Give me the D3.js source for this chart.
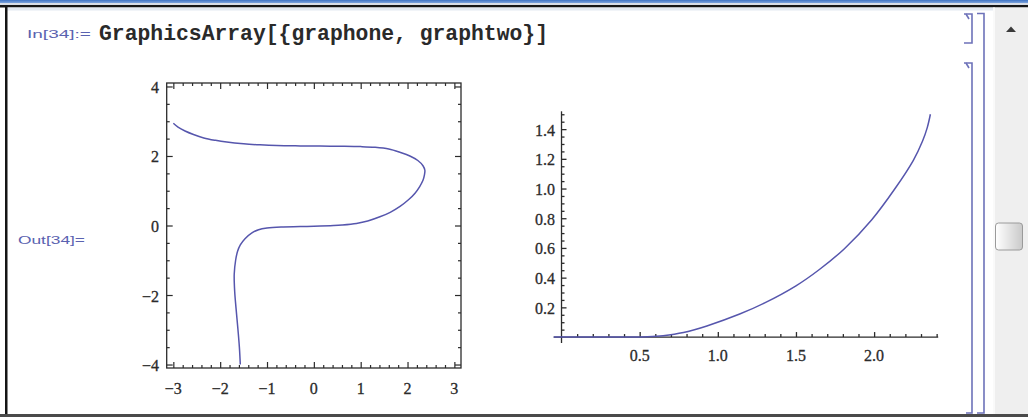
<!DOCTYPE html>
<html><head><meta charset="utf-8">
<script src="https://cdn.jsdelivr.net/npm/d3@7"></script>
<style>html,body{margin:0;padding:0;background:#fff;overflow:hidden}</style>
</head><body>
<script>
// ---- data ----
const inputLabel = "In[34]:=";
const outputLabel = "Out[34]=";
const inputCode = "GraphicsArray[{graphone, graphtwo}]";

// graphone: parametric curve
const oneX = [-3.0,-2.9,-2.75,-2.57,-2.35,-2.1,-1.86,-1.5,-1.15,-0.79,-0.29,0.13,0.6,1.0,1.3,1.6,1.85,2.05,2.22,2.33,2.37,2.36,2.33,2.26,2.16,2.02,1.84,1.63,1.41,1.15,0.91,0.6,0.42,0.0,-0.29,-0.7,-1.0,-1.18,-1.33,-1.47,-1.57,-1.63,-1.67,-1.70,-1.69,-1.66,-1.62,-1.59,-1.57];
const oneY = [2.94,2.83,2.72,2.62,2.52,2.45,2.40,2.35,2.32,2.30,2.29,2.285,2.28,2.27,2.25,2.2,2.1,2.0,1.87,1.72,1.59,1.45,1.30,1.12,0.93,0.74,0.55,0.38,0.25,0.13,0.06,0.015,0.0,-0.02,-0.03,-0.04,-0.07,-0.12,-0.22,-0.38,-0.56,-0.75,-1.0,-1.4,-1.9,-2.4,-3.0,-3.5,-4.0];
const oneXTicks = [-3,-2,-1,0,1,2,3];
const oneXLabels = ["\u22123","\u22122","\u22121","0","1","2","3"];
const oneYTicks = [-4,-2,0,2,4];
const oneYLabels = ["\u22124","\u22122","0","2","4"];

// graphtwo
const twoX = [-0.05,0.3,0.45,0.55,0.65,0.78,0.93,1.14,1.3,1.5,1.65,1.81,1.985,2.134,2.251,2.31,2.34,2.36];
const twoY = [0,0,0,0.002,0.009,0.03,0.075,0.155,0.23,0.345,0.455,0.595,0.79,1.0,1.19,1.32,1.41,1.5];
const twoXTicks = [0.5,1.0,1.5,2.0];
const twoXLabels = ["0.5","1.0","1.5","2.0"];
const twoYTicks = [0.2,0.4,0.6,0.8,1.0,1.2,1.4];
const twoYLabels = ["0.2","0.4","0.6","0.8","1.0","1.2","1.4"];

// ---- drawing ----
const W = 1028, H = 417;
const svg = d3.select("body").append("svg").attr("width", W).attr("height", H)
  .style("display","block");

const defs = svg.append("defs");
const gTop = defs.append("linearGradient").attr("id","topband").attr("x1",0).attr("x2",0).attr("y1",0).attr("y2",1);
gTop.append("stop").attr("offset","0%").attr("stop-color","#3f74c4");
gTop.append("stop").attr("offset","100%").attr("stop-color","#7da3dc");
const gThumb = defs.append("linearGradient").attr("id","thumb").attr("x1",0).attr("x2",1).attr("y1",0).attr("y2",0);
gThumb.append("stop").attr("offset","0%").attr("stop-color","#ffffff");
gThumb.append("stop").attr("offset","100%").attr("stop-color","#c9c9c9");

svg.append("rect").attr("width",W).attr("height",H).attr("fill","#fff");

// window chrome
svg.append("rect").attr("x",0).attr("y",0).attr("width",W).attr("height",3).attr("fill","url(#topband)");
svg.append("rect").attr("x",0).attr("y",3).attr("width",W).attr("height",2).attr("fill","#d8dde6");
svg.append("rect").attr("x",0).attr("y",5).attr("width",W).attr("height",2.5).attr("fill","#151515");
svg.append("rect").attr("x",7).attr("y",7.5).attr("width",986).attr("height",3).attr("fill","#e3e9f1");
svg.append("rect").attr("x",5).attr("y",5).attr("width",2.5).attr("height",H).attr("fill","#151515");
svg.append("rect").attr("x",0).attr("y",414).attr("width",W).attr("height",3).attr("fill","#4a4a4a");

// scrollbar
svg.append("rect").attr("x",993).attr("y",7.5).attr("width",35).attr("height",406.5).attr("fill","#efefef");
svg.append("rect").attr("x",993).attr("y",7.5).attr("width",2).attr("height",406.5).attr("fill","#fafafa");
svg.append("path").attr("d","M1006,32 L1011,26.5 L1016,32 Z").attr("fill","#3a3a3a");
svg.append("rect").attr("x",995.5).attr("y",223).attr("width",27).attr("height",27).attr("rx",3)
  .attr("fill","url(#thumb)").attr("stroke","#9a9a9a").attr("stroke-width",1);

// cell brackets
const br = svg.append("g").attr("fill","none").attr("stroke","#6d72b9").attr("stroke-width",1.6);
br.append("path").attr("d","M964,14 H972 V43 H964");
br.append("path").attr("d","M966,14 L969,19");
br.append("path").attr("d","M964,63 H972 V413 H966");
br.append("path").attr("d","M966,63 L969,68");
br.append("path").attr("d","M977,13.5 H984 V413 H977");

// input line
svg.append("text").attr("x",27).attr("y",38).text(inputLabel)
  .attr("font-family","Liberation Sans, Arial, sans-serif").attr("font-size",11)
  .attr("textLength",64).attr("lengthAdjust","spacingAndGlyphs").attr("fill","#5a62b0");
svg.append("text").attr("x",99).attr("y",40).text(inputCode)
  .attr("font-family","Liberation Mono, Courier New, monospace").attr("font-weight","bold")
  .attr("font-size",21.3).attr("fill","#2a2a2a")
  .attr("textLength",449).attr("lengthAdjust","spacingAndGlyphs");
svg.append("text").attr("x",18).attr("y",244).text(outputLabel)
  .attr("font-family","Liberation Sans, Arial, sans-serif").attr("font-size",11)
  .attr("textLength",67).attr("lengthAdjust","spacingAndGlyphs").attr("fill","#5a62b0");

const tickFont = "Liberation Serif, Times New Roman, serif";
const inkColor = "#2b2b2b";
const curveColor = "#5656ad";

function styleLabel(sel) {
  sel.attr("font-family",tickFont).attr("font-size",16).attr("fill",inkColor)
     .attr("stroke",inkColor).attr("stroke-width",0.3).attr("dominant-baseline","central");
}

// ---------- graphone (framed) ----------
const x1 = d3.scaleLinear().domain([-Math.PI, Math.PI]).range([166.7, 461]);
const y1 = d3.scaleLinear().domain([-4.1, 4.1]).range([368, 83]);
const g1 = svg.append("g");
g1.append("rect").attr("x",x1(-Math.PI)).attr("y",y1(4.1)).attr("width",x1(Math.PI)-x1(-Math.PI))
  .attr("height",y1(-4.1)-y1(4.1)).attr("fill","none").attr("stroke",inkColor).attr("stroke-width",1.3);

const xMinor1 = d3.range(-3.0, 3.01, 0.2).filter(v => Math.abs(v - Math.round(v)) > 1e-6);
const yMinor1 = d3.range(-4, 4.01, 0.5).filter(v => oneYTicks.indexOf(v) < 0);

function frameTicks(axisFn, scale, major, minor, transformAttr) {
  const gM = g1.append("g").attr("transform", transformAttr)
    .call(axisFn(scale).tickValues(major).tickSize(-6).tickFormat(""));
  const gm = g1.append("g").attr("transform", transformAttr)
    .call(axisFn(scale).tickValues(minor).tickSize(-3).tickFormat(""));
  [gM, gm].forEach(g => {
    g.select(".domain").remove();
    g.selectAll("line").attr("stroke", inkColor).attr("stroke-width", 1.2);
  });
}
frameTicks(d3.axisBottom, x1, oneXTicks, xMinor1, `translate(0,${y1(-4.1)})`);
frameTicks(d3.axisTop, x1, oneXTicks, xMinor1, `translate(0,${y1(4.1)})`);
frameTicks(d3.axisLeft, y1, oneYTicks, yMinor1, `translate(${x1(-Math.PI)},0)`);
frameTicks(d3.axisRight, y1, oneYTicks, yMinor1, `translate(${x1(Math.PI)},0)`);

g1.selectAll("text.xl").data(oneXTicks).enter().append("text")
  .attr("x", d => x1(d)).attr("y", 388).attr("text-anchor","middle")
  .call(styleLabel).text((d,i) => oneXLabels[i]);
g1.selectAll("text.yl").data(oneYTicks).enter().append("text")
  .attr("x", 159).attr("y", d => y1(d)+1).attr("text-anchor","end")
  .call(styleLabel).text((d,i) => oneYLabels[i]);

const pts1 = oneX.map((v,i) => [v, oneY[i]]);
g1.append("path").datum(pts1)
  .attr("d", d3.line().x(d => x1(d[0])).y(d => y1(d[1])).curve(d3.curveCatmullRom.alpha(0.5)))
  .attr("fill","none").attr("stroke",curveColor).attr("stroke-width",1.5);

// ---------- graphtwo (axes) ----------
const x2 = d3.scaleLinear().domain([-0.05, 2.41]).range([553.7, 938.2]);
const y2 = d3.scaleLinear().domain([-0.04, 1.52]).range([343, 111.3]);
const g2 = svg.append("g");

const xMinor2 = d3.range(1, 25).map(i => i/10).filter(v => Math.abs(v*2 - Math.round(v*2)) > 1e-6);
const yMinor2 = d3.range(1, 31).map(i => i/20).filter(v => Math.abs(v*5 - Math.round(v*5)) > 1e-6);

const ax = g2.append("g").attr("transform",`translate(0,${y2(0)})`)
  .call(d3.axisTop(x2).tickValues(twoXTicks).tickSize(5).tickFormat(""));
ax.select(".domain").attr("d", `M${x2(-0.05)},0H${x2(2.41)}`);
const axm = g2.append("g").attr("transform",`translate(0,${y2(0)})`)
  .call(d3.axisTop(x2).tickValues(xMinor2).tickSize(3).tickFormat(""));
axm.select(".domain").remove();
const ay = g2.append("g").attr("transform",`translate(${x2(0)},0)`)
  .call(d3.axisRight(y2).tickValues(twoYTicks).tickSize(5).tickFormat(""));
ay.select(".domain").attr("d", `M0,${y2(-0.04)}V${y2(1.52)}`);
const aym = g2.append("g").attr("transform",`translate(${x2(0)},0)`)
  .call(d3.axisRight(y2).tickValues(yMinor2).tickSize(3).tickFormat(""));
aym.select(".domain").remove();
g2.selectAll("line, path.domain").attr("stroke",inkColor).attr("stroke-width",1.3);

g2.selectAll("text.xl").data(twoXTicks).enter().append("text")
  .attr("x", d => x2(d)).attr("y", 355).attr("text-anchor","middle")
  .call(styleLabel).text((d,i) => twoXLabels[i]);
g2.selectAll("text.yl").data(twoYTicks).enter().append("text")
  .attr("x", 555).attr("y", d => y2(d)+1).attr("text-anchor","end")
  .call(styleLabel).text((d,i) => twoYLabels[i]);

const pts2 = twoX.map((v,i) => [v, twoY[i]]);
g2.append("path").datum(pts2)
  .attr("d", d3.line().x(d => x2(d[0])).y(d => y2(d[1])).curve(d3.curveCatmullRom.alpha(0.5)))
  .attr("fill","none").attr("stroke",curveColor).attr("stroke-width",1.5);
</script>
</body></html>
